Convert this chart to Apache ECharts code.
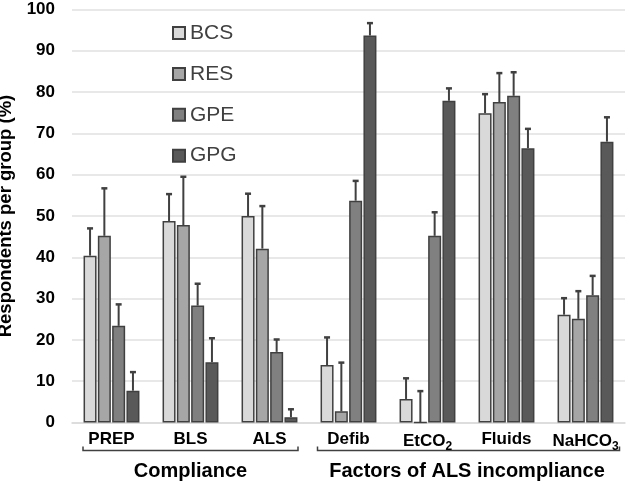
<!DOCTYPE html>
<html>
<head>
<meta charset="utf-8">
<script src="https://cdn.jsdelivr.net/npm/echarts@6/dist/echarts.min.js"></script>
<style>
html,body{margin:0;padding:0;background:#fff;}
#main{width:630px;height:486px;}
</style>
</head>
<body>
<div id="main"></div>
<script>
// ---- data ----
const categories = ['PREP', 'BLS', 'ALS', 'Defib', 'EtCO2', 'Fluids', 'NaHCO3'];
const seriesNames = ['BCS', 'RES', 'GPE', 'GPG'];
const bcs     = [40.4, 48.8, 50.0, 13.9, 5.7, 74.9, 26.1];
const bcsErr  = [47.0, 55.3, 55.4, 20.6, 10.7, 79.5, 30.1];
const res     = [45.2, 47.8, 42.1, 2.7, 0, 77.6, 25.1];
const resErr  = [56.7, 59.5, 52.4, 14.5, 7.6, 84.6, 31.8];
const gpe     = [23.4, 28.3, 17.1, 53.7, 45.2, 79.1, 30.8];
const gpeErr  = [28.6, 33.6, 20.1, 58.5, 50.9, 84.8, 35.5];
const gpg     = [7.7, 14.6, 1.3, 93.7, 77.9, 66.4, 68.0];
const gpgErr  = [12.2, 20.4, 3.2, 96.7, 80.9, 71.1, 73.9];
const groups = [
  {name: 'Compliance', from: 'PREP', to: 'ALS'},
  {name: 'Factors of ALS incompliance', from: 'Defib', to: 'NaHCO3'}
];

// ---- styles ----
const FONT = '"Liberation Sans", Arial, sans-serif';
const colors = ['#d9d9d9', '#a6a6a6', '#808080', '#595959'];
const BAR_W = 13;
const GAP = 1.3;
const values = [bcs, res, gpe, gpg];
const errs = [bcsErr, resErr, gpeErr, gpgErr];
const total = 4 * BAR_W + 3 * GAP;
const offsets = [0, 1, 2, 3].map(i => -total / 2 + BAR_W / 2 + i * (BAR_W + GAP));

const chart = echarts.init(document.getElementById('main'), null, {renderer: 'canvas'});

const barSeries = seriesNames.map((n, i) => ({
  name: n,
  type: 'bar',
  data: values[i],
  barWidth: BAR_W,
  barGap: '10%',
  itemStyle: {color: colors[i], borderColor: '#404040', borderWidth: 1.5},
  z: 2
}));

const errSeries = seriesNames.map((n, i) => ({
  name: n + ' err',
  type: 'custom',
  z: 3,
  data: categories.map((c, k) => [k, values[i][k], errs[i][k]]),
  encode: {x: 0, y: [1, 2]},
  renderItem: function (params, api) {
    const base = api.coord([api.value(0), api.value(1)]);
    const top = api.coord([api.value(0), api.value(2)]);
    const x = base[0] + offsets[i];
    return {
      type: 'group',
      children: [
        {type: 'line', shape: {x1: x, y1: base[1], x2: x, y2: top[1]}, style: {stroke: '#404040', lineWidth: 2}},
        {type: 'line', shape: {x1: x - 3, y1: top[1], x2: x + 3, y2: top[1]}, style: {stroke: '#404040', lineWidth: 2.5}}
      ]
    };
  }
}));

const option = {
  animation: false,
  backgroundColor: '#fff',
  grid: {left: 72, right: 5, top: 9.5, bottom: 63.5, containLabel: false, outerBoundsMode: 'none'},
  legend: {
    data: seriesNames,
    orient: 'vertical',
    left: 172,
    top: 22.5,
    padding: 0,
    itemWidth: 12,
    itemHeight: 12,
    itemGap: 19.9,
    icon: 'rect',
    textStyle: {fontFamily: FONT, fontSize: 21, color: '#404040', lineHeight: 21}
  },
  xAxis: {
    type: 'category',
    data: categories,
    axisLine: {show: true, lineStyle: {color: '#d9d9d9', width: 1.5}},
    axisTick: {show: false},
    axisLabel: {
      interval: 0,
      margin: 8,
      fontFamily: FONT,
      fontWeight: 'bold',
      fontSize: 17,
      color: '#000',
      formatter: function (v) {
        if (v === 'EtCO2') return 'EtCO{sub|2}';
        if (v === 'NaHCO3') return 'NaHCO{sub|3}';
        return v;
      },
      rich: {
        sub: {fontFamily: FONT, fontWeight: 'bold', fontSize: 12, color: '#000', verticalAlign: 'bottom', padding: [10, 0, 0, 0]}
      }
    }
  },
  yAxis: {
    type: 'value',
    min: 0,
    max: 100,
    interval: 10,
    name: 'Respondents per group (%)',
    nameLocation: 'middle',
    nameGap: 51,
    nameTextStyle: {fontFamily: FONT, fontWeight: 'bold', fontSize: 18.5, color: '#000'},
    axisLine: {show: false},
    axisTick: {show: false},
    axisLabel: {margin: 17, fontFamily: FONT, fontWeight: 'bold', fontSize: 17, color: '#000'},
    splitLine: {lineStyle: {color: '#e0e0e0', width: 1.5}}
  },
  series: barSeries.concat(errSeries)
};
chart.setOption(option);

// brackets and group titles, positioned from the category axis
function px(cat) { return chart.convertToPixel({xAxisIndex: 0}, cat); }
const elements = [];
const lineY = 450.5;
groups.forEach((g, gi) => {
  const x1 = px(g.from) - (gi === 0 ? 28.5 : 31);
  const x2 = px(g.to) + (gi === 0 ? 28.5 : 34);
  elements.push({
    type: 'polyline',
    shape: {points: [[x1, lineY - 4], [x1, lineY], [x2, lineY], [x2, lineY - 4]]},
    style: {stroke: '#404040', lineWidth: 1.5, fill: null}
  });
  elements.push({
    type: 'text',
    x: (px(g.from) + px(g.to)) / 2,
    y: 471,
    style: {
      text: g.name,
      fontFamily: FONT,
      fontWeight: 'bold',
      fontSize: 20,
      fill: '#000',
      align: 'center',
      verticalAlign: 'middle'
    }
  });
});
chart.setOption({graphic: {elements: elements}});
</script>
</body>
</html>
